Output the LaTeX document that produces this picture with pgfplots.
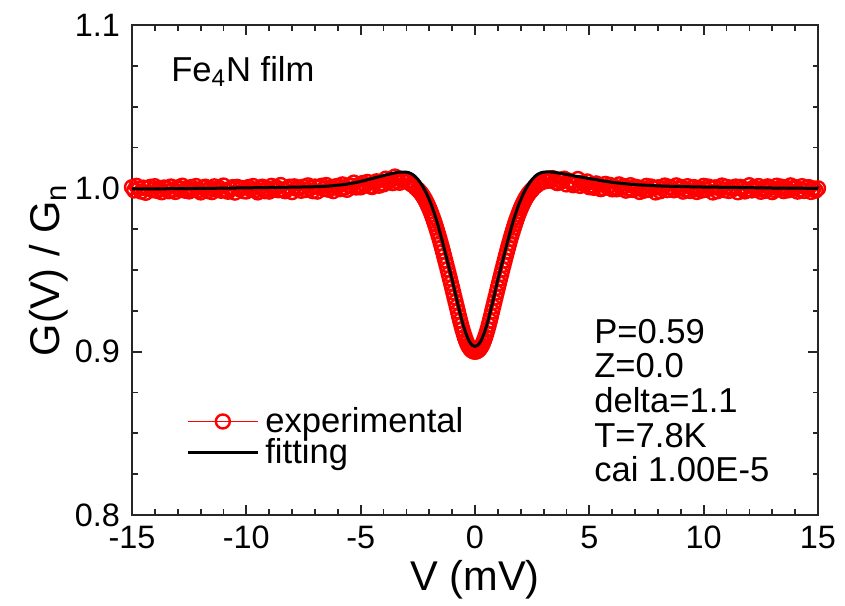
\documentclass[border=0pt]{standalone}
\usepackage{fontspec}
\setmainfont{Liberation Sans}
\usepackage{pgfplots}
\pgfplotsset{compat=1.18}
\pgfplotsset{set layers}
\begin{document}
\begin{tikzpicture}
\begin{axis}[
  scale only axis,
  width=343bp, height=245bp,
  xmin=-15, xmax=15, ymin=0.8, ymax=1.1,
  clip=false,
  axis line style={line width=1bp, black!85},
  every tick/.style={line width=0.9bp, black!85},
  tick align=inside,
  xtick pos=both, ytick pos=both,
  major tick length=5bp, minor tick length=2.75bp,
  xtick={-15,-10,-5,0,5,10,15},
  xticklabels={-15,-10,-5,0,5,10,15},
  ytick={0.8,0.9,1.0,1.1},
  yticklabels={0.8,0.9,1.0,1.1},
  minor x tick num=4, minor y tick num=3,
  tick label style={font=\fontsize{16.2bp}{19bp}\selectfont, black},
  xticklabel style={yshift=-2bp},
  yticklabel style={xshift=-2.5bp},
  xlabel={V (mV)}, ylabel={G(V) / G\textsubscript{n}},
  label style={font=\fontsize{20.8bp}{24bp}\selectfont},
  xlabel style={at={(axis description cs:0.5,-0.0788)}, anchor=north},
  ylabel style={at={(axis description cs:-0.0822,0.5)}, anchor=south},
  legend style={at={(axis cs:-12.64,0.8477)}, anchor=west, draw=none, fill=none,
    font=\fontsize{17.3bp}{20bp}\selectfont, row sep=0.6bp, column sep=1bp,
    inner sep=0pt, nodes={inner ysep=0.5bp, inner xsep=2bp}},
  legend cell align=left,
  legend image code/.code={\draw[mark repeat=2,mark phase=2,#1] plot coordinates {(0bp,0bp) (17.5bp,0bp) (35bp,0bp)};},
]
\addplot[red, line width=0.5bp, mark=o, mark size=3.5bp, mark options={line width=1.2bp, solid}] coordinates {
(-15.0,1.0007)(-14.9,0.9987)(-14.8,1.0015)(-14.7,0.9998)(-14.6,0.9980)(-14.5,1.0004)(-14.4,0.9973)(-14.3,1.0000)(-14.2,1.0009)(-14.1,0.9989)
(-14.0,1.0013)(-13.9,0.9984)(-13.8,0.9997)(-13.7,0.9976)(-13.6,1.0005)(-13.5,1.0002)(-13.4,0.9982)(-13.3,1.0011)(-13.2,0.9991)(-13.1,0.9978)
(-13.0,1.0006)(-12.9,0.9995)(-12.8,1.0016)(-12.7,0.9986)(-12.6,1.0001)(-12.5,0.9981)(-12.4,1.0008)(-12.3,0.9993)(-12.2,1.0014)(-12.1,0.9988)
(-12.0,0.9975)(-11.9,1.0003)(-11.8,1.0010)(-11.7,0.9983)(-11.6,0.9999)(-11.5,0.9977)(-11.4,1.0012)(-11.3,0.9992)(-11.2,1.0004)(-11.1,0.9985)
(-11.0,1.0017)(-10.9,0.9990)(-10.8,0.9979)(-10.7,0.9996)(-10.6,1.0007)(-10.5,0.9974)(-10.4,1.0009)(-10.3,0.9994)(-10.2,1.0002)(-10.1,0.9982)
(-10.0,0.9981)(-9.9,1.0008)(-9.8,0.9993)(-9.7,1.0014)(-9.6,0.9988)(-9.5,0.9975)(-9.4,1.0003)(-9.3,1.0010)(-9.2,0.9983)(-9.1,0.9999)
(-9.0,0.9980)(-8.9,1.0015)(-8.8,0.9995)(-8.7,1.0007)(-8.6,0.9988)(-8.5,1.0020)(-8.4,0.9993)(-8.3,0.9982)(-8.2,0.9999)(-8.1,1.0010)
(-8.0,0.9977)(-7.9,1.0012)(-7.8,0.9997)(-7.7,1.0005)(-7.6,0.9985)(-7.5,1.0010)(-7.4,0.9990)(-7.3,1.0018)(-7.2,1.0001)(-7.1,0.9983)
(-7.0,1.0011)(-6.9,0.9980)(-6.8,1.0007)(-6.7,1.0016)(-6.6,0.9996)(-6.5,1.0020)(-6.4,0.9991)(-6.3,1.0004)(-6.2,0.9983)(-6.1,1.0012)
(-6.0,1.0015)(-5.9,0.9995)(-5.8,1.0024)(-5.7,1.0004)(-5.6,0.9991)(-5.5,1.0019)(-5.4,1.0014)(-5.3,1.0035)(-5.2,1.0005)(-5.1,1.0020)
(-5.0,1.0006)(-4.9,1.0033)(-4.8,1.0018)(-4.7,1.0039)(-4.6,1.0013)(-4.5,1.0008)(-4.4,1.0036)(-4.3,1.0043)(-4.2,1.0016)(-4.1,1.0032)
(-4.0,1.0024)(-3.9,1.0059)(-3.8,1.0039)(-3.7,1.0051)(-3.6,1.0032)(-3.5,1.0072)(-3.4,1.0045)(-3.3,1.0034)(-3.2,1.0051)(-3.1,1.0055)
(-3.0,1.0040)(-2.9,1.0042)(-2.8,1.0026)(-2.7,1.0020)(-2.6,1.0004)
(-2.50,0.9992)(-2.45,0.9985)(-2.40,0.9977)(-2.35,0.9968)(-2.30,0.9958)(-2.25,0.9947)(-2.20,0.9935)(-2.15,0.9922)(-2.10,0.9908)(-2.05,0.9893)
(-2.00,0.9877)(-1.95,0.9860)(-1.90,0.9842)(-1.85,0.9823)(-1.80,0.9803)(-1.75,0.9782)(-1.70,0.9760)(-1.65,0.9737)(-1.60,0.9714)(-1.55,0.9690)
(-1.50,0.9665)(-1.45,0.9639)(-1.40,0.9613)(-1.35,0.9586)(-1.30,0.9559)(-1.25,0.9532)(-1.20,0.9504)(-1.15,0.9476)(-1.10,0.9448)(-1.05,0.9420)
(-1.00,0.9392)(-0.95,0.9363)(-0.90,0.9334)(-0.85,0.9305)(-0.80,0.9276)(-0.75,0.9247)(-0.70,0.9218)(-0.65,0.9190)(-0.60,0.9163)(-0.55,0.9137)
(-0.50,0.9113)(-0.45,0.9091)(-0.40,0.9071)(-0.35,0.9053)(-0.30,0.9038)(-0.25,0.9026)(-0.20,0.9016)(-0.15,0.9009)(-0.10,0.9004)(-0.05,0.9001)
(0,0.9000)
(0.05,0.9001)(0.10,0.9004)(0.15,0.9009)(0.20,0.9016)(0.25,0.9026)(0.30,0.9038)(0.35,0.9053)(0.40,0.9071)(0.45,0.9091)(0.50,0.9113)
(0.55,0.9137)(0.60,0.9163)(0.65,0.9190)(0.70,0.9218)(0.75,0.9247)(0.80,0.9276)(0.85,0.9305)(0.90,0.9334)(0.95,0.9363)(1.00,0.9392)
(1.05,0.9420)(1.10,0.9448)(1.15,0.9476)(1.20,0.9504)(1.25,0.9532)(1.30,0.9559)(1.35,0.9586)(1.40,0.9613)(1.45,0.9639)(1.50,0.9665)
(1.55,0.9690)(1.60,0.9714)(1.65,0.9737)(1.70,0.9760)(1.75,0.9782)(1.80,0.9803)(1.85,0.9823)(1.90,0.9842)(1.95,0.9860)(2.00,0.9877)
(2.05,0.9893)(2.10,0.9908)(2.15,0.9922)(2.20,0.9935)(2.25,0.9947)(2.30,0.9958)(2.35,0.9968)(2.40,0.9977)(2.45,0.9985)(2.50,0.9992)
(2.6,1.0008)(2.7,1.0019)(2.8,1.0030)(2.9,1.0036)(3.0,1.0049)(3.1,1.0044)(3.2,1.0058)(3.3,1.0047)(3.4,1.0062)(3.5,1.0040)
(3.6,1.0032)(3.7,1.0052)(3.8,1.0044)(3.9,1.0059)(4.0,1.0024)(4.1,1.0047)(4.2,1.0036)(4.3,1.0019)(4.4,1.0030)(4.5,1.0057)
(4.6,1.0015)(4.7,1.0034)(4.8,1.0022)(4.9,1.0042)(5.0,1.0007)(5.1,1.0019)(5.2,1.0003)(5.3,1.0030)(5.4,1.0023)(5.5,0.9995)
(5.6,1.0001)(5.7,1.0027)(5.8,1.0006)(5.9,1.0021)(6.0,0.9994)(6.1,1.0009)(6.2,0.9994)(6.3,1.0024)(6.4,1.0003)(6.5,1.0014)
(6.6,0.9986)(6.7,0.9999)(6.8,1.0019)(6.9,0.9990)(7.0,1.0010)(7.1,1.0007)(7.2,0.9978)(7.3,0.9999)(7.4,0.9986)(7.5,1.0015)
(7.6,0.9991)(7.7,1.0011)(7.8,1.0002)(7.9,0.9975)(8.0,1.0006)(8.1,0.9982)(8.2,1.0000)(8.3,1.0017)(8.4,0.9989)(8.5,1.0009)
(8.6,1.0003)(8.7,0.9988)(8.8,1.0018)(8.9,0.9997)(9.0,1.0008)(9.1,0.9980)(9.2,0.9993)(9.3,1.0013)(9.4,0.9984)(9.5,1.0004)
(9.6,1.0007)(9.7,0.9978)(9.8,0.9999)(9.9,0.9986)(10.0,1.0015)(10.1,0.9991)(10.2,1.0011)(10.3,1.0002)(10.4,0.9975)(10.5,1.0006)
(10.6,0.9982)(10.7,1.0000)(10.8,1.0017)(10.9,0.9989)(11.0,1.0009)(11.1,0.9984)(11.2,1.0004)(11.3,0.9996)(11.4,1.0011)(11.5,0.9976)
(11.6,1.0009)(11.7,0.9998)(11.8,0.9981)(11.9,0.9992)(12.0,1.0019)(12.1,0.9987)(12.2,1.0006)(12.3,0.9994)(12.4,1.0014)(12.5,0.9979)
(12.6,1.0001)(12.7,0.9985)(12.8,1.0012)(12.9,1.0005)(13.0,0.9977)(13.1,0.9990)(13.2,1.0016)(13.3,0.9995)(13.4,1.0010)(13.5,0.9983)
(13.6,1.0003)(13.7,0.9988)(13.8,1.0018)(13.9,0.9997)(14.0,1.0008)(14.1,0.9980)(14.2,0.9993)(14.3,1.0013)(14.4,0.9984)(14.5,1.0004)
(14.6,1.0007)(14.7,0.9978)(14.8,0.9999)(14.9,0.9986)(15.0,1.0000)
};
\addlegendentry{experimental}
\addplot[black, line width=1.5bp, smooth, on layer=axis foreground] coordinates {
(-15,0.9996)(-13,0.9998)(-11,1.0001)(-10,1.0003)(-9,1.0005)(-8,1.0007)(-7,1.0010)(-6.5,1.0013)(-6,1.0019)(-5.5,1.0028)(-5,1.0042)(-4.5,1.0060)(-4,1.0078)(-3.8,1.0085)(-3.6,1.0092)(-3.4,1.0097)(-3.2,1.0100)(-3.0,1.0099)(-2.9,1.0096)(-2.8,1.0090)(-2.7,1.0082)(-2.6,1.0070)(-2.5,1.0055)(-2.4,1.0037)(-2.3,1.0015)(-2.2,0.9990)(-2.1,0.9962)(-2.0,0.9930)(-1.9,0.9895)(-1.8,0.9855)(-1.7,0.9812)(-1.6,0.9765)(-1.5,0.9713)(-1.4,0.9660)(-1.3,0.9605)(-1.2,0.9550)(-1.1,0.9495)(-1.0,0.9440)(-0.9,0.9380)(-0.8,0.9320)(-0.7,0.9262)(-0.6,0.9205)(-0.5,0.9155)(-0.4,0.9113)(-0.3,0.9078)(-0.2,0.9052)(-0.1,0.9037)(0,0.9033)(0.1,0.9037)(0.2,0.9052)(0.3,0.9078)(0.4,0.9113)(0.5,0.9155)(0.6,0.9205)(0.7,0.9262)(0.8,0.9320)(0.9,0.9380)(1.0,0.9440)(1.1,0.9495)(1.2,0.9550)(1.3,0.9605)(1.4,0.9660)(1.5,0.9713)(1.6,0.9765)(1.7,0.9812)(1.8,0.9855)(1.9,0.9895)(2.0,0.9930)(2.1,0.9962)(2.2,0.9990)(2.3,1.0015)(2.4,1.0037)(2.5,1.0055)(2.6,1.0070)(2.7,1.0082)(2.8,1.0090)(2.9,1.0096)(3.0,1.0099)(3.2,1.0101)(3.4,1.0099)(3.6,1.0095)(3.8,1.0090)(4.0,1.0085)(4.5,1.0072)(5.0,1.0060)(5.5,1.0048)(6.0,1.0037)(6.5,1.0029)(7,1.0023)(8,1.0015)(9,1.0011)(10,1.0008)(11,1.0006)(12,1.0004)(13,1.0002)(14,1.0001)(15,1.0000)
};
\addlegendentry{fitting}
\node[anchor=base west, inner sep=0pt, font=\fontsize{17.3bp}{20bp}\selectfont] at (axis cs:-13.3,1.0653) {Fe\textsubscript{4}N film};
\node[anchor=base west, inner sep=0pt, font=\fontsize{17.3bp}{20bp}\selectfont] at (axis cs:5.2,0.9051) {P=0.59};
\node[anchor=base west, inner sep=0pt, font=\fontsize{17.3bp}{20bp}\selectfont] at (axis cs:5.2,0.8839) {Z=0.0};
\node[anchor=base west, inner sep=0pt, font=\fontsize{17.3bp}{20bp}\selectfont] at (axis cs:5.2,0.8627) {delta=1.1};
\node[anchor=base west, inner sep=0pt, font=\fontsize{17.3bp}{20bp}\selectfont] at (axis cs:5.2,0.8415) {T=7.8K};
\node[anchor=base west, inner sep=0pt, font=\fontsize{17.3bp}{20bp}\selectfont] at (axis cs:5.2,0.8203) {cai 1.00E-5};
\coordinate (ll) at (rel axis cs:0,0);
\end{axis}
\pgfresetboundingbox
\path[use as bounding box] ([shift={(-66bp,-45.5bp)}]ll) rectangle ++(422.5bp,303bp);
\end{tikzpicture}
\end{document}
